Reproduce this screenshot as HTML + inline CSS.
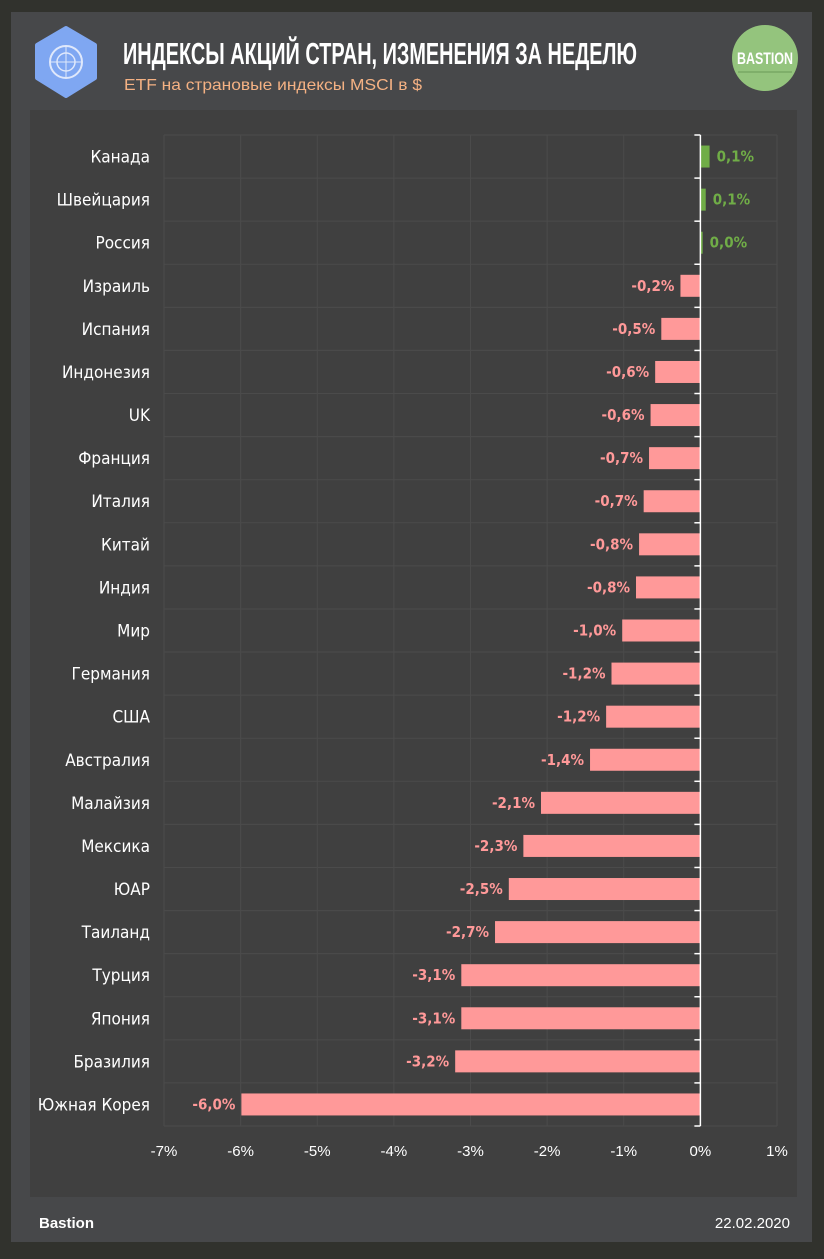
<!DOCTYPE html>
<html><head><meta charset="utf-8"><style>
html,body{margin:0;padding:0;background:#31322d;}
body{width:824px;height:1254px;position:relative;overflow:hidden;font-family:"Liberation Sans",sans-serif;}
</style></head><body>
<svg width="824" height="1254" xmlns="http://www.w3.org/2000/svg" id="svg">
<rect x="11" y="12" width="801" height="1230" fill="#47484a"/>
<rect x="30" y="110" width="767" height="1087" fill="#404040"/>
<g>
<polygon points="66,28 95,45 95,78 66,96 37,78 37,45" fill="#7fa7f2" stroke="#7fa7f2" stroke-width="4" stroke-linejoin="round"/>
<circle cx="66" cy="62" r="16" fill="none" stroke="#dfe8fb" stroke-width="2"/>
<circle cx="66" cy="62" r="9" fill="none" stroke="#dfe8fb" stroke-width="1.5"/>
<line x1="66" y1="46" x2="66" y2="78" stroke="#dfe8fb" stroke-width="1"/>
<line x1="50" y1="62" x2="82" y2="62" stroke="#dfe8fb" stroke-width="1"/>
</g>
<text x="123" y="64" font-family="'Liberation Sans Narrow','Liberation Sans',sans-serif" font-weight="bold" font-size="31" fill="#ffffff" textLength="514" lengthAdjust="spacingAndGlyphs">ИНДЕКСЫ АКЦИЙ СТРАН, ИЗМЕНЕНИЯ ЗА НЕДЕЛЮ</text>
<text x="124" y="90" font-size="16" fill="#f4b183" textLength="298" lengthAdjust="spacingAndGlyphs">ETF на страновые индексы MSCI в $</text>
<g>
<circle cx="765" cy="58" r="33" fill="#94c47d"/>
<text x="765" y="64" text-anchor="middle" font-family="'Liberation Sans Narrow','Liberation Sans',sans-serif" font-weight="bold" font-size="17" fill="#fff" textLength="56" lengthAdjust="spacingAndGlyphs">BASTION</text>
<line x1="738" y1="72" x2="792" y2="72" stroke="#6a9a58" stroke-width="1"/>
</g>
<g id="plot"></g>
<text x="39" y="1228" font-size="15" font-weight="bold" fill="#ffffff">Bastion</text>
<text x="790" y="1228" font-size="15" fill="#ffffff" text-anchor="end">22.02.2020</text>
</svg>
<script>
const categories=["Канада","Швейцария","Россия","Израиль","Испания","Индонезия","UK","Франция","Италия","Китай","Индия","Мир","Германия","США","Австралия","Малайзия","Мексика","ЮАР","Таиланд","Турция","Япония","Бразилия","Южная Корея"];
const values=[0.12,0.07,0.03,-0.26,-0.51,-0.59,-0.65,-0.67,-0.74,-0.80,-0.84,-1.02,-1.16,-1.23,-1.44,-2.08,-2.31,-2.50,-2.68,-3.12,-3.12,-3.20,-5.99];
const valueLabels=["0,1%","0,1%","0,0%","-0,2%","-0,5%","-0,6%","-0,6%","-0,7%","-0,7%","-0,8%","-0,8%","-1,0%","-1,2%","-1,2%","-1,4%","-2,1%","-2,3%","-2,5%","-2,7%","-3,1%","-3,1%","-3,2%","-6,0%"];
const ticks=[-7,-6,-5,-4,-3,-2,-1,0,1];
const tickLabels=["-7%","-6%","-5%","-4%","-3%","-2%","-1%","0%","1%"];
const NS="http://www.w3.org/2000/svg";
const plotG=document.getElementById('plot');
const xMin=-7,xMax=1,pLeft=164,pRight=777,pTop=135,pBottom=1126;
const xs=v=>pLeft+(v-xMin)/(xMax-xMin)*(pRight-pLeft);
const step=(pBottom-pTop)/categories.length;
const ys=i=>pTop+i*step;
function mk(t,a){const e=document.createElementNS(NS,t);for(const k in a)e.setAttribute(k,a[k]);plotG.appendChild(e);return e;}
for(let i=0;i<=categories.length;i++){
 const l=mk('line',{x1:pLeft,x2:pRight,y1:ys(i),y2:ys(i),stroke:'#4b4b4b','stroke-width':1});
 
 
}
ticks.forEach((t,j)=>{
 const l=mk('line',{x1:xs(t),x2:xs(t),y1:pTop,y2:pBottom,stroke:'#4b4b4b','stroke-width':1});
 
 
 const tx=mk('text',{x:xs(t),y:pBottom+30,'text-anchor':'middle','font-size':15,fill:'#fff'});
 tx.textContent=tickLabels[j];
 
 
});
categories.forEach((c,i)=>{
 const v=values[i],cy=ys(i)+step/2,pos=v>=0;
 const x0=xs(0),x1=xs(v);
 const r=mk('rect',{x:Math.min(x0,x1),y:cy-11,width:Math.max(Math.abs(x1-x0),2),height:22,fill:pos?'#70ad47':'#ff9999'});
 
 
 const lt=mk('text',{x:150,y:cy+6,'text-anchor':'end','font-size':17,fill:'#fff','font-family':'"DejaVu Sans Condensed","Liberation Sans",sans-serif'});
 lt.textContent=c;
 
 
 const vt=mk('text',{x:pos?Math.max(x1,x0+2)+7:x1-6,y:cy+5,'text-anchor':pos?'start':'end','font-size':15,'font-weight':'bold',fill:pos?'#70ad47':'#ff9999','font-family':'"DejaVu Sans Condensed","Liberation Sans",sans-serif'});
 vt.textContent=valueLabels[i];
 
 
});
const ax=mk('line',{x1:xs(0),x2:xs(0),y1:pTop,y2:pBottom,stroke:'#ffffff','stroke-width':1.5});


for(let i=0;i<=categories.length;i++){
 const tk=mk('line',{x1:xs(0)-6,x2:xs(0),y1:ys(i),y2:ys(i),stroke:'#fff','stroke-width':1.5});
 
 
}
</script>
</body></html>
